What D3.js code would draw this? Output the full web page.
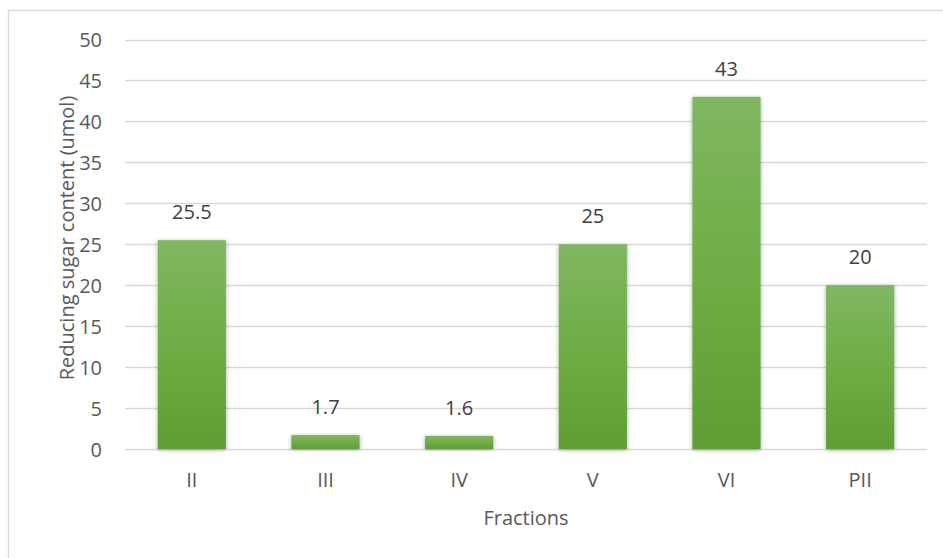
<!DOCTYPE html>
<html>
<head>
<meta charset="utf-8">
<script src="https://cdn.jsdelivr.net/npm/d3@7"></script>
<style>
  html, body { margin: 0; padding: 0; background: #fff; }
  svg { display: block; }
  text { font-family: "Open Sans", Lato, sans-serif; fill: #595959; }
</style>
</head>
<body>
<svg id="chart" width="943" height="558"></svg>
<script>
// Reducing sugar content per fraction
const categories = ["II", "III", "IV", "V", "VI", "PII"];
const values = [25.5, 1.7, 1.6, 25, 43, 20];
const yTicks = [0, 5, 10, 15, 20, 25, 30, 35, 40, 45, 50];

const svg = d3.select("#chart");
const W = 943, H = 558;
const plot = { left: 125, right: 927, top: 39.5, bottom: 449 };
const FONT = "'Open Sans', Lato, sans-serif";
const FS = 20;

// chart frame
svg.append("rect")
  .attr("x", 8.5).attr("y", 10.5)
  .attr("width", W).attr("height", H)
  .attr("fill", "none").attr("stroke", "#d9d9d9").attr("stroke-width", 1.3);

const x = d3.scaleBand().domain(categories)
  .range([plot.left, plot.right]).paddingInner(0.49).paddingOuter(0.245);
const y = d3.scaleLinear().domain([0, 50]).range([plot.bottom, plot.top]);

const defs = svg.append("defs");
const grad = defs.append("linearGradient").attr("id", "barGrad")
  .attr("x1", 0).attr("y1", 0).attr("x2", 0).attr("y2", 1);
grad.append("stop").attr("offset", "0%").attr("stop-color", "#80b762");
grad.append("stop").attr("offset", "50%").attr("stop-color", "#6fad45");
grad.append("stop").attr("offset", "100%").attr("stop-color", "#5e9e33");

const shadow = defs.append("filter").attr("id", "shadow")
  .attr("x", "-30%").attr("y", "-10%").attr("width", "160%").attr("height", "120%");
shadow.append("feDropShadow").attr("dx", 0).attr("dy", 1).attr("stdDeviation", 2.2)
  .attr("flood-color", "#000").attr("flood-opacity", 0.35);

// gridlines
svg.append("g").selectAll("line").data(yTicks).join("line")
  .attr("x1", plot.left).attr("x2", plot.right)
  .attr("y1", d => Math.round(y(d)) + 0.5).attr("y2", d => Math.round(y(d)) + 0.5)
  .attr("stroke", "#d9d9d9").attr("stroke-width", 1.3);

// y axis labels
const yAxis = d3.axisLeft(y).tickValues(yTicks).tickSize(0).tickPadding(0);
const yg = svg.append("g").attr("transform", `translate(102,0)`).call(yAxis);
yg.select(".domain").remove();
yg.selectAll("text").attr("font-size", FS).attr("dy", "0.37em")
  .style("fill", "#595959").style("font-family", FONT);

// x axis labels
const xAxis = d3.axisBottom(x).tickSize(0).tickPadding(0);
const xg = svg.append("g").attr("transform", `translate(0,487)`).call(xAxis);
xg.select(".domain").remove();
xg.selectAll("text").attr("font-size", FS).attr("dy", 0).attr("y", 0)
  .style("fill", "#595959").style("font-family", FONT);

// bars
svg.append("g").selectAll("rect").data(values).join("rect")
  .attr("x", (d, i) => x(categories[i]))
  .attr("width", x.bandwidth())
  .attr("y", d => y(d))
  .attr("height", d => y(0) - y(d))
  .attr("fill", "url(#barGrad)")
  .attr("filter", "url(#shadow)");

// value labels
svg.append("g").selectAll("text").data(values).join("text")
  .attr("x", (d, i) => x(categories[i]) + x.bandwidth() / 2)
  .attr("y", d => y(d) - 21)
  .attr("text-anchor", "middle")
  .attr("font-size", FS)
  .style("fill", "#404040")
  .text(d => d);

// axis titles
svg.append("text")
  .attr("transform", `translate(74,238) rotate(-90)`)
  .attr("text-anchor", "middle").attr("font-size", FS)
  .text("Reducing sugar content (umol)");

svg.append("text")
  .attr("x", (plot.left + plot.right) / 2).attr("y", 525)
  .attr("text-anchor", "middle").attr("font-size", FS)
  .text("Fractions");
</script>
</body>
</html>
